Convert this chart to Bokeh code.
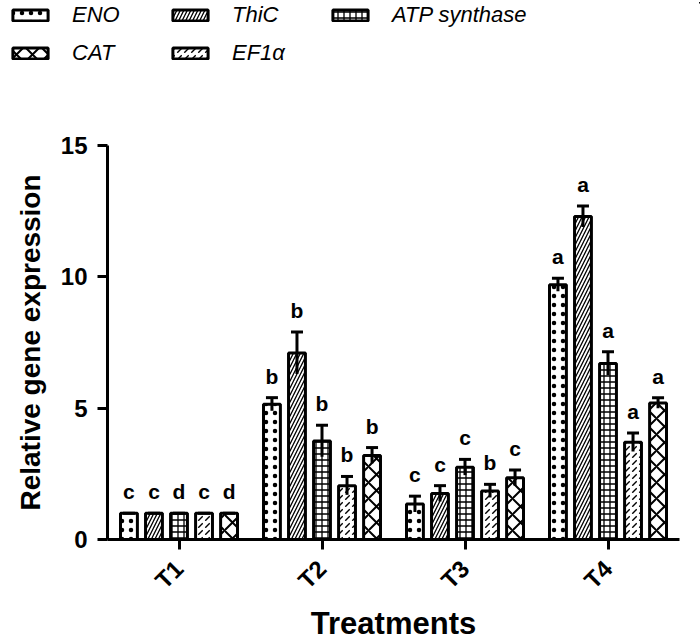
from bokeh.plotting import figure
from bokeh.models import (ColumnDataSource, FactorRange, Range1d, FixedTicker, Whisker,
                          TeeHead, Legend, LegendItem)
from bokeh.core.properties import value
from bokeh.transform import dodge
from bokeh.embed import file_html
from bokeh.resources import INLINE
import math

treatments = ["T1", "T2", "T3", "T4"]
genes = ["ENO", "ThiC", "ATP synthase", "EF1α", "CAT"]

eno = [1.0, 5.15, 1.35, 9.7]
eno_err = [0.0, 0.25, 0.3, 0.25]
eno_sig = ["c", "b", "c", "a"]

thic = [1.0, 7.1, 1.75, 12.3]
thic_err = [0.0, 0.8, 0.3, 0.4]
thic_sig = ["c", "b", "c", "a"]

atp = [1.0, 3.75, 2.75, 6.7]
atp_err = [0.0, 0.6, 0.3, 0.45]
atp_sig = ["d", "b", "c", "a"]

ef1a = [1.0, 2.05, 1.85, 3.7]
ef1a_err = [0.0, 0.35, 0.25, 0.35]
ef1a_sig = ["c", "b", "b", "a"]

cat = [1.0, 3.2, 2.35, 5.2]
cat_err = [0.0, 0.3, 0.3, 0.2]
cat_sig = ["d", "b", "c", "a"]

series = [
    ("ENO", eno, eno_err, eno_sig, dict(hatch_pattern="dot", hatch_scale=9, hatch_weight=1.0)),
    ("ThiC", thic, thic_err, thic_sig, dict(hatch_pattern="right_diagonal_line", hatch_scale=7, hatch_weight=1.3)),
    ("ATP synthase", atp, atp_err, atp_sig, dict(hatch_pattern="cross", hatch_scale=6, hatch_weight=1.3)),
    ("EF1α", ef1a, ef1a_err, ef1a_sig, dict(hatch_pattern="right_diagonal_dash", hatch_scale=7, hatch_weight=1.4)),
    ("CAT", cat, cat_err, cat_sig, dict(hatch_pattern="diagonal_cross", hatch_scale=16, hatch_weight=2)),
]
offsets = [-0.35, -0.175, 0.0, 0.175, 0.35]

FONT = "Liberation Sans"
LEG_H = 66
MAIN_H = 644 - LEG_H

p = figure(width=700, height=MAIN_H, x_range=FactorRange(*treatments), y_range=Range1d(0, 15),
           output_backend="svg", toolbar_location=None,
           min_border_left=107, min_border_right=21, min_border_top=145 - LEG_H,
           min_border_bottom=104)

# legend-only figure above the chart
lg = figure(width=700, height=LEG_H, x_range=Range1d(0, 1), y_range=Range1d(0, 1),
            output_backend="svg", toolbar_location=None, x_axis_type=None, y_axis_type=None,
            min_border_left=8, min_border_top=2, min_border_right=0, min_border_bottom=0)
lg.xgrid.visible = False
lg.ygrid.visible = False
lg.outline_line_color = None

legend_items = {}
for (name, vals, errs, sig, hatch), off in zip(series, offsets):
    src = ColumnDataSource(dict(
        t=treatments, v=vals,
        upper=[v + e for v, e in zip(vals, errs)],
        lower=[v - e for v, e in zip(vals, errs)],
        sig=sig,
    ))
    p.vbar(x=dodge("t", off, range=p.x_range), top="v", width=0.118, source=src,
           fill_color="white", line_color="black", line_width=3,
           hatch_color="black", **hatch)
    w = Whisker(source=src, base=dodge("t", off, range=p.x_range), upper="upper", lower="lower",
                upper_head=TeeHead(size=12, line_width=3, line_color="black"), lower_head=None,
                line_width=3, line_color="black", level="overlay")
    p.add_layout(w)
    p.text(x=dodge("t", off, range=p.x_range), y="upper", text="sig", source=src,
           text_align="center", text_baseline="bottom", y_offset=-10,
           text_font=value(FONT), text_font_style="bold", text_font_size="21px",
           text_color="black")
    # proxy glyph (placed far outside the legend figure's visible range) carrying the swatch style
    legend_items[name] = lg.vbar(x=[50], bottom=[50], top=[51], width=0.1, fill_color="white",
                                 line_color="black", line_width=3, hatch_color="black", **hatch)

order = ["ENO", "ThiC", "ATP synthase", "CAT", "EF1α"]
legend = Legend(items=[LegendItem(label=n, renderers=[legend_items[n]]) for n in order],
                orientation="horizontal", ncols=3, location="top_left",
                glyph_width=44, glyph_height=14, label_text_font=FONT,
                label_text_font_style="italic", label_text_font_size="22px",
                label_text_color="black", label_width=84,
                label_standoff=20, spacing=12, padding=0, margin=0,
                border_line_color=None, background_fill_alpha=0)
lg.add_layout(legend)

p.xgrid.visible = False
p.ygrid.visible = False
p.outline_line_color = None

for ax in (p.xaxis[0], p.yaxis[0]):
    ax.axis_line_width = 3
    ax.major_tick_line_width = 3
    ax.major_tick_out = 10
    ax.major_tick_in = 0
    ax.minor_tick_line_color = None
    ax.major_label_text_font = FONT
    ax.major_label_text_font_style = "bold"
    ax.major_label_text_font_size = "24px"
    ax.major_label_text_color = "black"
    ax.axis_label_text_font = FONT
    ax.axis_label_text_font_style = "bold"
    ax.axis_label_text_color = "black"

p.yaxis.axis_label_text_font_size = "28px"
p.xaxis.axis_label_text_font_size = "31px"
p.yaxis.ticker = FixedTicker(ticks=[0, 5, 10, 15])
p.yaxis.major_label_standoff = 10
p.yaxis.axis_label = "Relative gene expression"
p.xaxis.axis_label = "Treatments"
p.xaxis.major_label_orientation = math.pi / 4
p.xaxis.major_label_standoff = 15
p.xaxis.axis_label_standoff = 0
p.yaxis.axis_label_standoff = 12

open("out.html", "w").write(file_html([lg, p], INLINE))
